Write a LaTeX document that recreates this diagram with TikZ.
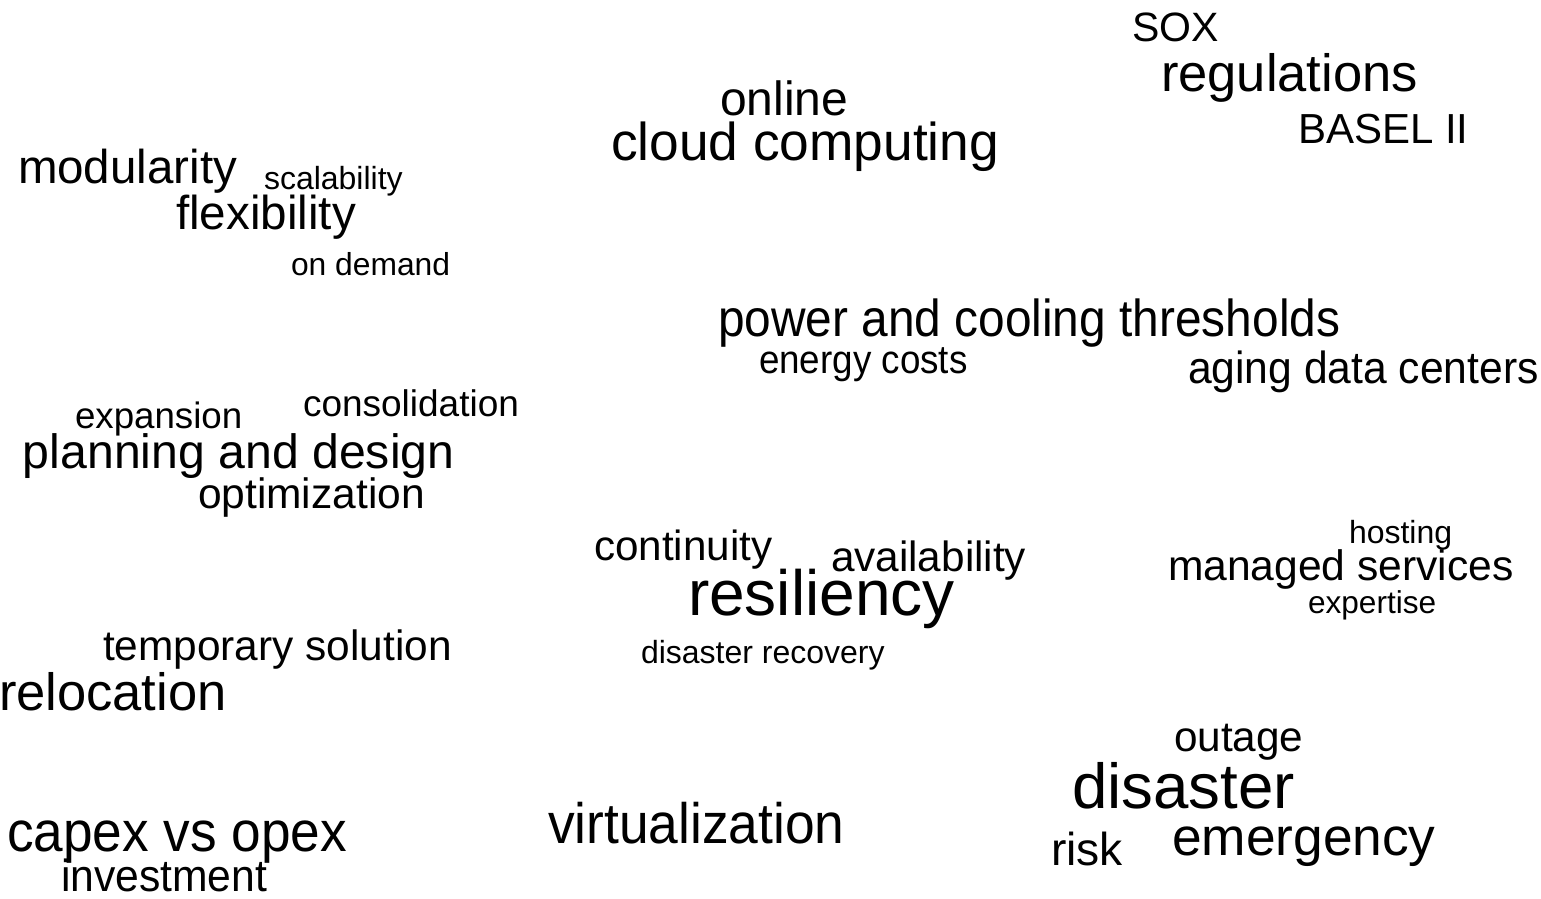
\documentclass[tikz,border=0pt]{standalone}
\usepackage{fontspec}
\setmainfont{Liberation Sans}
\newcommand{\wsize}[1]{\fontsize{#1pt}{#1pt}\selectfont}
\tikzset{
  word/.style={anchor=base west, inner sep=0pt, outer sep=0pt},
  narrow/.style={word, xscale=#1},
  narrow/.default=0.92
}
\begin{document}
\begin{tikzpicture}[x=1pt,y=-1pt]
\useasboundingbox (0,0) rectangle (1541,898);

% regulations
\node[word,font=\wsize{41}] (sox) at (1132,41) {SOX};
\node[word,font=\wsize{52.5}] (regulations) at (1161,91) {regulations};
\node[word,font=\wsize{42}] (basel) at (1298,143) {BASEL II};

% cloud
\node[word,font=\wsize{48}] (online) at (720,115) {online};
\node[word,font=\wsize{53.3}] (cloud) at (611,160) {cloud computing};

% flexibility
\node[word,font=\wsize{47.5}] (modularity) at (18,183) {modularity};
\node[word,font=\wsize{32}] (scalability) at (264,189) {scalability};
\node[word,font=\wsize{47.6}] (flexibility) at (176,229) {flexibility};
\node[word,font=\wsize{31.8}] (ondemand) at (291,275) {on demand};

% power
\node[narrow,font=\wsize{52}] (power) at (718,336) {power and cooling thresholds};
\node[narrow,font=\wsize{40}] (energy) at (759,373) {energy costs};
\node[narrow=0.947,font=\wsize{45}] (aging) at (1188,383) {aging data centers};

% planning
\node[word,font=\wsize{36.7}] (expansion) at (75,428) {expansion};
\node[word,font=\wsize{37}] (consolidation) at (303,416) {consolidation};
\node[word,font=\wsize{48.2}] (planning) at (23,468) {planning and design};
\node[word,font=\wsize{42.5}] (optimization) at (198,508) {optimization};

% resiliency
\node[word,font=\wsize{42.2}] (continuity) at (594,560) {continuity};
\node[word,font=\wsize{42.3}] (availability) at (831,571) {availability};
\node[word,font=\wsize{64}] (resiliency) at (688,615) {resiliency};
\node[word,font=\wsize{32}] (recovery) at (641,663) {disaster recovery};

% managed services
\node[word,font=\wsize{32}] (hosting) at (1349,543) {hosting};
\node[word,font=\wsize{42.6}] (managed) at (1168,580) {managed services};
\node[word,font=\wsize{31.6}] (expertise) at (1308,613) {expertise};

% relocation
\node[word,font=\wsize{42.4}] (temporary) at (103,660) {temporary solution};
\node[word,font=\wsize{52.5}] (relocation) at (-1,710) {relocation};

% disaster
\node[word,font=\wsize{42.3}] (outage) at (1174,751) {outage};
\node[word,font=\wsize{63.6}] (disaster) at (1072,808) {disaster};
\node[word,font=\wsize{46.2}] (risk) at (1051,865) {risk};
\node[word,font=\wsize{53.3}] (emergency) at (1172,855) {emergency};

% costs
\node[narrow=0.933,font=\wsize{57}] (capex) at (7,851) {capex vs opex};
\node[narrow=0.948,font=\wsize{45}] (investment) at (61,891) {investment};
\node[narrow=0.936,font=\wsize{57}] (virtualization) at (548,843) {virtualization};

\end{tikzpicture}
\end{document}
